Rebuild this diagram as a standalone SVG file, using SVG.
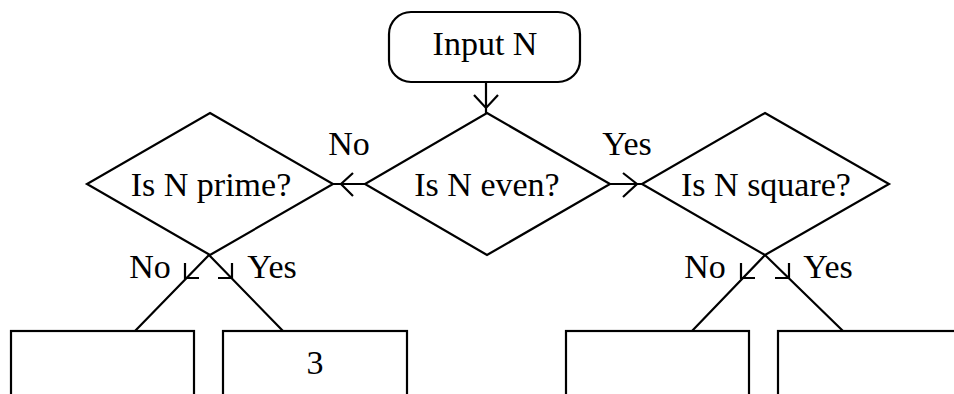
<svg xmlns="http://www.w3.org/2000/svg" width="954" height="394" viewBox="0 0 954 394">
<style>
.s{fill:#fff;stroke:#000;stroke-width:2.2}
.c{fill:none;stroke:#000;stroke-width:2.2}
.t{font-family:"Liberation Serif","Times New Roman",serif;font-size:34px;fill:#000}
.m{text-anchor:middle}
</style>
<rect width="954" height="394" fill="#fff"/>
<g id="start"><rect class="s" x="389" y="12" width="191" height="70" rx="22"/><text class="t m" x="485" y="55">Input N</text></g>
<g id="even"><polygon class="s" points="487,113 610,184 487,255 365,184"/><text class="t m" x="487" y="196">Is N even?</text></g>
<g id="prime"><polygon class="s" points="210,113 333,184 210,255 87,184"/><text class="t m" x="211" y="196">Is N prime?</text></g>
<g id="square"><polygon class="s" points="765,113 889,184 765,255 642,184"/><text class="t m" x="766" y="196">Is N square?</text></g>
<g id="box1"><rect class="s" x="11" y="331" width="183" height="80"/></g>
<g id="box2"><rect class="s" x="223" y="331" width="184" height="80"/><text class="t m" x="315" y="374">3</text></g>
<g id="box3"><rect class="s" x="566" y="331" width="183" height="80"/></g>
<g id="box4"><rect class="s" x="778" y="331" width="184" height="80"/></g>
<g id="connectors">
<path class="c" d="M486,82 V113 M474,95 L486,108 L498,95"/>
<path class="c" d="M365,184 H333 M353,173 L341,184 L353,196"/>
<path class="c" d="M610,184 H642 M623,173 L637,184 L623,197"/>
<path class="c" d="M209,255 L135,331 M185,263 V278 H199"/>
<path class="c" d="M209,255 L283,331 M232,263 V278 H218"/>
<path class="c" d="M765,255 L692,331 M741,263 V278 H755"/>
<path class="c" d="M765,255 L843,331 M789,263 V278 H775"/>
</g>
<g id="labels">
<text class="t m" x="349" y="155">No</text>
<text class="t m" x="627" y="155">Yes</text>
<text class="t m" x="150" y="278">No</text>
<text class="t m" x="272" y="278">Yes</text>
<text class="t m" x="705" y="278">No</text>
<text class="t m" x="828" y="278">Yes</text>
</g>
</svg>
